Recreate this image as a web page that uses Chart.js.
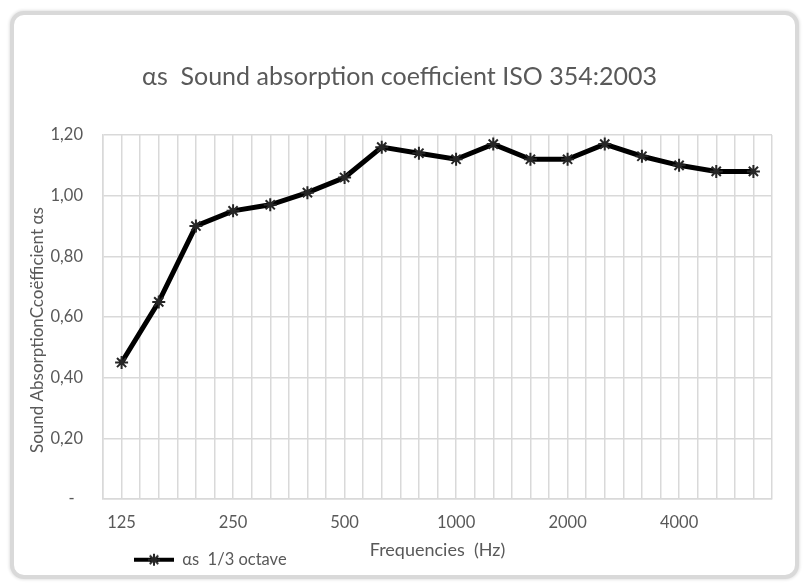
<!DOCTYPE html>
<html>
<head>
<meta charset="utf-8">
<script src="https://cdn.jsdelivr.net/npm/chart.js@4/dist/chart.umd.min.js"></script>
<style>
  html, body { margin: 0; padding: 0; background: #fff; }
  #frame {
    position: absolute; left: 10px; top: 11px; width: 781px; height: 560px;
    border: 4px solid #d9d9d9; border-radius: 14px;
    box-shadow: 0 0 3px 1px #e4e4e4;
    background: #fff;
  }
  #wrap { position: absolute; left: 0; top: 0; width: 803px; height: 585px; }
</style>
</head>
<body>
<div id="frame"></div>
<div id="wrap"><canvas id="c" width="803" height="585"></canvas></div>
<script>
// ---- data ----
const frequencies = ['125','160','200','250','315','400','500','630','800','1000','1250','1600','2000','2500','3150','4000','5000','6300'];
const alphaS = [0.45,0.65,0.90,0.95,0.97,1.01,1.06,1.16,1.14,1.12,1.17,1.12,1.12,1.17,1.13,1.10,1.08,1.08];
const yTicks = [0,0.2,0.4,0.6,0.8,1.0,1.2];
const titleText = 'αs  Sound absorption coefficient ISO 354:2003';
const seriesName = 'αs  1/3 octave';
const xTitle = 'Frequencies  (Hz)';
const yTitle = 'Sound AbsorptionCcoëfficient αs';

const FONT = 'Lato, "Open Sans", sans-serif';
const TXT = '#595959';
const GRID = '#d9d9d9';

// legend icon: line with star marker
const icon = document.createElement('canvas');
icon.width = 40; icon.height = 16;
(function(){
  const g = icon.getContext('2d');
  g.strokeStyle = '#000'; g.lineWidth = 4;
  g.beginPath(); g.moveTo(0,8); g.lineTo(40,8); g.stroke();
  g.strokeStyle = '#262626'; g.lineWidth = 2;
  const r = 6, cx = 20, cy = 8;
  g.beginPath();
  for (let k = 0; k < 4; k++) {
    const a = k * Math.PI / 4;
    g.moveTo(cx - r*Math.cos(a), cy - r*Math.sin(a));
    g.lineTo(cx + r*Math.cos(a), cy + r*Math.sin(a));
  }
  g.stroke();
})();

const legendShift = {
  id: 'legendShift',
  afterLayout(chart) {
    const lg = chart.legend;
    if (lg) { lg.left += 97; lg.right += 97; }
  }
};

new Chart(document.getElementById('c'), {
  type: 'line',
  data: {
    datasets: [{
      label: seriesName,
      data: alphaS.map((v, i) => ({x: i, y: v})),
      borderColor: '#000',
      borderWidth: 5,
      pointStyle: 'star',
      pointRadius: 6.5,
      pointBorderWidth: 2,
      pointBorderColor: '#262626',
      pointBackgroundColor: '#262626',
      tension: 0
    }]
  },
  plugins: [legendShift],
  options: {
    responsive: false,
    animation: false,
    events: [],
    layout: { padding: { left: 27, right: 31, top: 0, bottom: 7 } },
    plugins: {
      title: {
        display: true, text: titleText, color: TXT,
        font: { family: FONT, size: 25, weight: 'normal' },
        padding: { top: 62, bottom: 43 }
      },
      legend: {
        display: true, position: 'bottom', align: 'start',
        labels: {
          color: TXT, font: { family: FONT, size: 16.5 },
          usePointStyle: true, pointStyleWidth: 40, padding: 10,
          generateLabels: (chart) => [{
            text: seriesName, pointStyle: icon, fontColor: TXT,
            datasetIndex: 0, hidden: false, lineWidth: 0
          }]
        }
      },
      tooltip: { enabled: false }
    },
    scales: {
      x: {
        type: 'linear', min: -0.5, max: frequencies.length - 0.5,
        grid: { color: GRID, lineWidth: 1.5, drawTicks: false },
        border: { color: GRID, width: 1.5 },
        ticks: {
          stepSize: 0.5, autoSkip: false, maxRotation: 0, padding: 14,
          color: TXT, font: { family: FONT, size: 16.5 },
          callback: (v) => {
            const r = Math.round(v * 2) / 2;
            return (Number.isInteger(r) && r % 3 === 0 && r >= 0) ? frequencies[r] : '';
          }
        },
        title: {
          display: true, text: xTitle, color: TXT,
          font: { family: FONT, size: 18 },
          padding: { top: -8, bottom: -19 }
        }
      },
      y: {
        min: 0, max: 1.2,
        afterBuildTicks: (s) => { s.ticks = yTicks.map(v => ({value: v})); },
        afterFit: (s) => { s.width = 76; },
        grid: { color: GRID, lineWidth: 1.5, drawTicks: false },
        border: { color: GRID, width: 1.5 },
        ticks: {
          padding: 20, color: TXT, font: { family: FONT, size: 16.5 },
          callback: (v) => v === 0 ? '-  ' : v.toFixed(2).replace('.', ',')
        },
        title: {
          display: true, text: yTitle + '      ', color: TXT,
          font: { family: FONT, size: 17 },
          padding: { top: 0, bottom: 6 }
        }
      }
    }
  }
});
</script>
</body>
</html>
